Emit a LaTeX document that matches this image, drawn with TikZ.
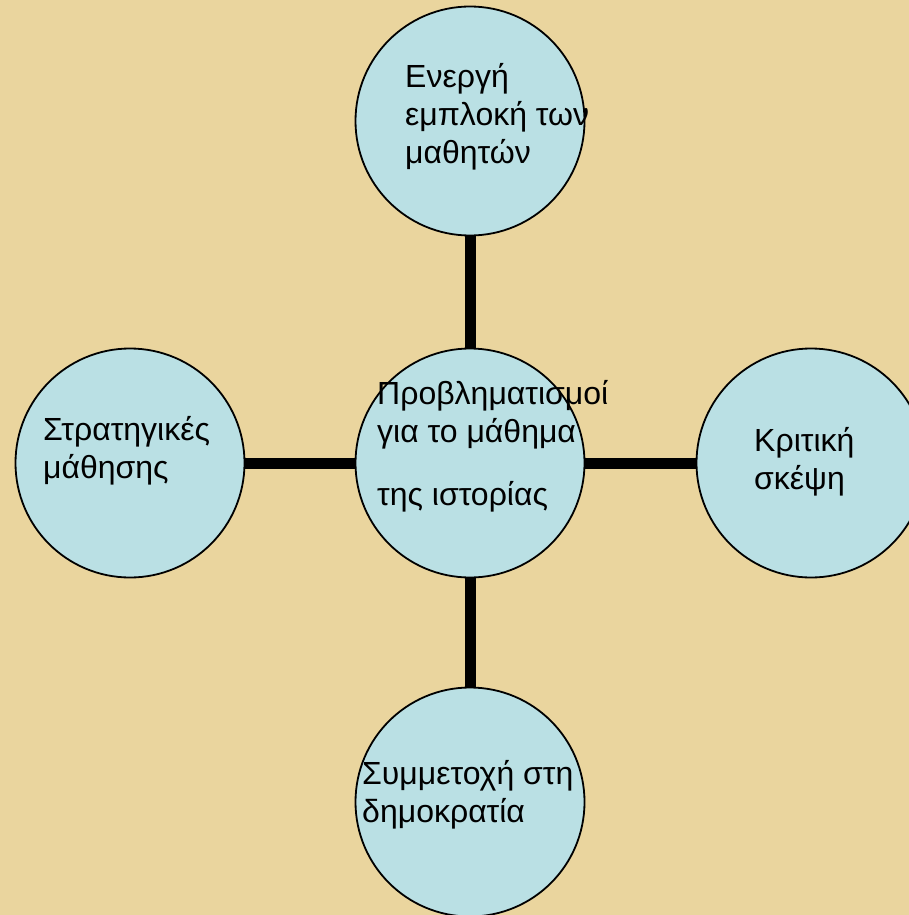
\documentclass[tikz,border=0pt]{standalone}
\usepackage{fontspec}
\setmainfont{Liberation Sans}
\usetikzlibrary{positioning}

\definecolor{papyrus}{RGB}{234,213,158}
\definecolor{bubblefill}{RGB}{186,224,228}

\tikzset{
  bubble/.style={circle, draw, line width=1.8pt, fill=bubblefill, minimum size=229pt, inner sep=0pt},
  txt/.style={align=left, inner sep=0pt, anchor=base west, font=\fontsize{32}{38}\selectfont},
  link/.style={line width=11pt}
}

\begin{document}
\begin{tikzpicture}[x=1pt,y=-1pt]
\fill[papyrus] (0,0) rectangle (909,915);
\useasboundingbox (0,0) rectangle (909,915);

\draw (470,121) node (top)    [bubble] {};
\draw (470,463) node (mid)    [bubble] {};
\draw (130,463) node (left)   [bubble] {};
\draw (811,463) node (right)  [bubble] {};
\draw (470,802) node (bottom) [bubble] {};

\draw[link] (top) -- (mid);
\draw[link] (left) -- (mid);
\draw[link] (mid) -- (right);
\draw[link] (mid) -- (bottom);

% base west = baseline of the last line
\draw (405,164) node (toptext)    [txt] {Ενεργή\\εμπλοκή των\\μαθητών};
\draw (377,505) node (midtext)    [txt] {Προβληματισμοί\\για το μάθημα\\[25pt]της ιστορίας};
\draw (43,478)  node (lefttext)   [txt] {Στρατηγικές\\μάθησης};
\draw (754,489) node (righttext)  [txt] {Κριτική\\σκέψη};
\draw (362,822) node (bottomtext) [txt] {Συμμετοχή στη\\δημοκρατία};

\end{tikzpicture}
\end{document}
